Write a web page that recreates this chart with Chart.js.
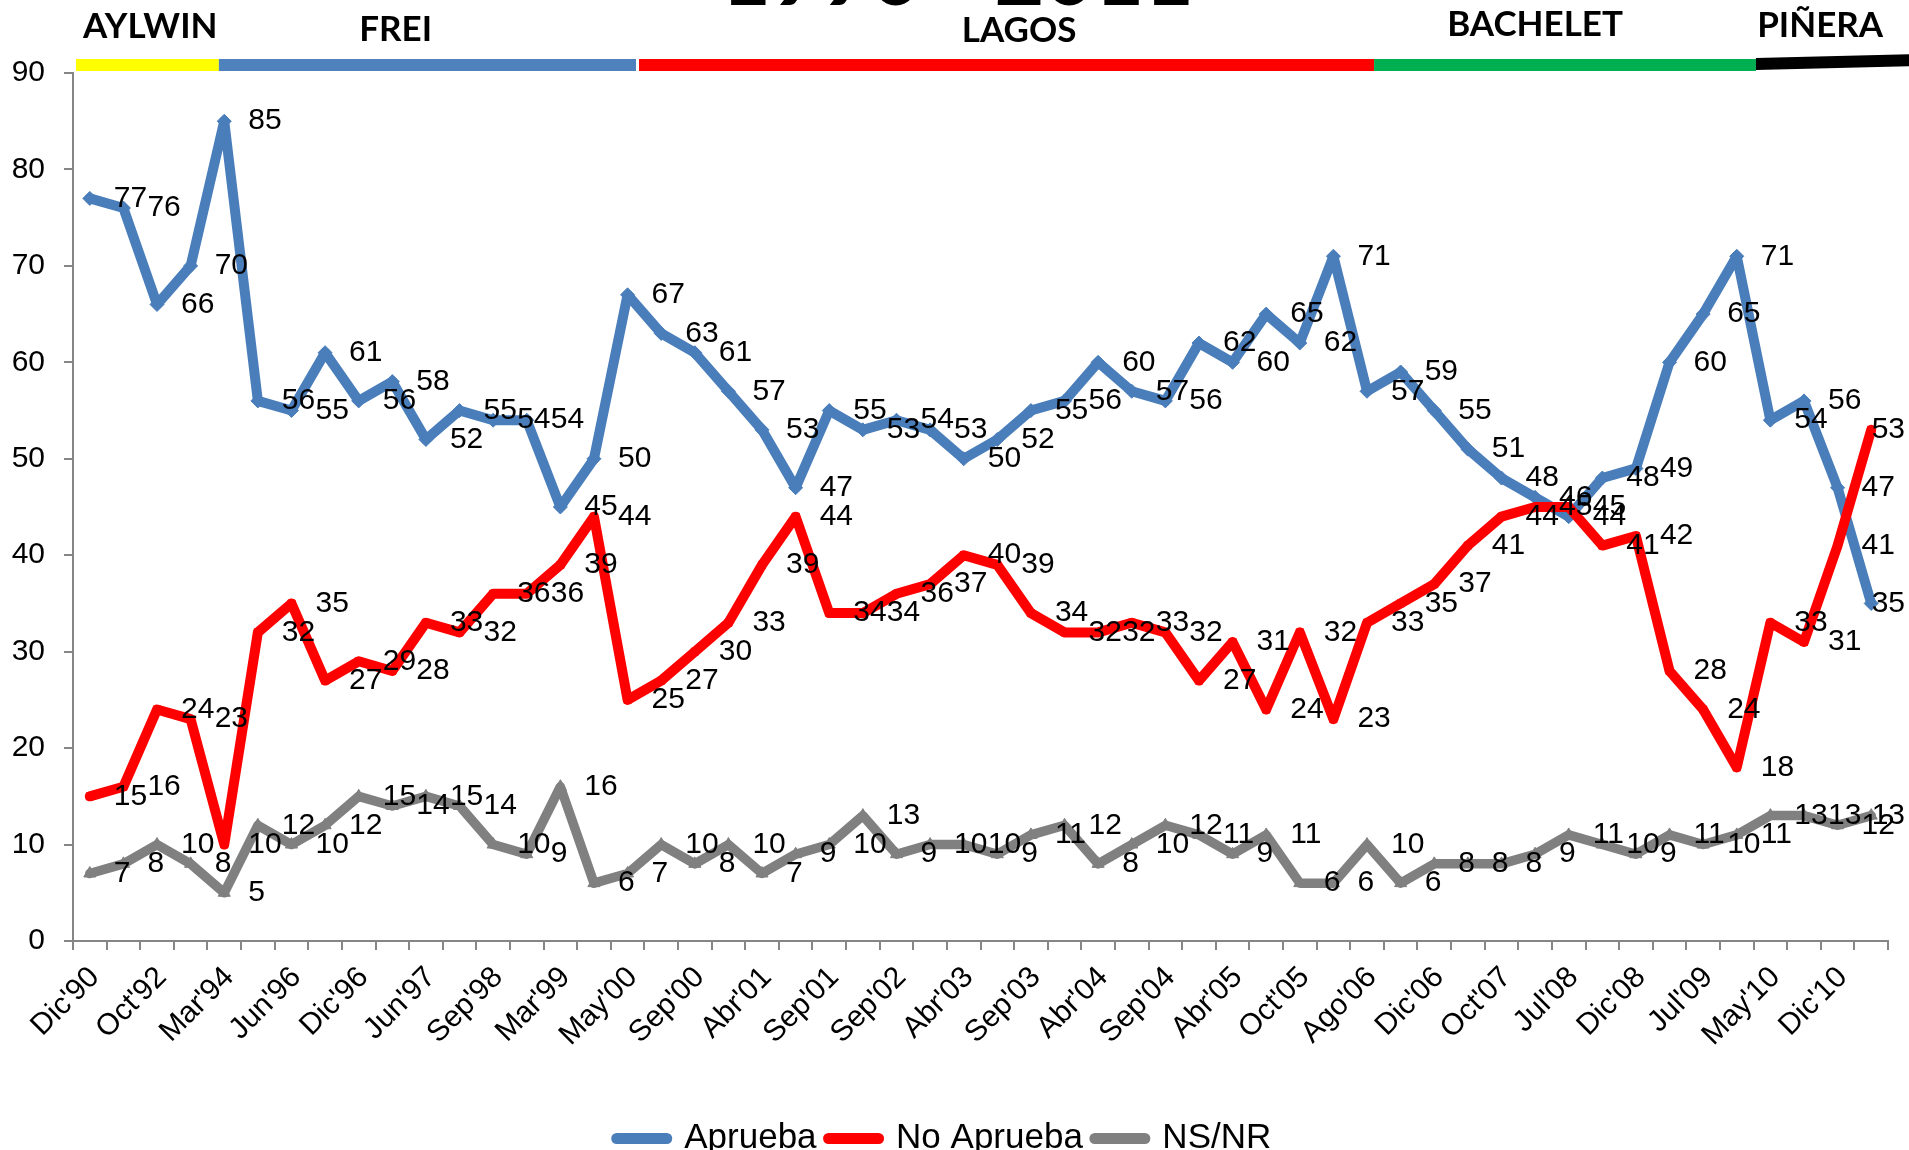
<!DOCTYPE html>
<html>
<head>
<meta charset="utf-8">
<script src="https://cdn.jsdelivr.net/npm/chart.js@4.4.1/dist/chart.umd.min.js"></script>
<style>
html,body{margin:0;padding:0;background:#fff;overflow:hidden}
#wrap{position:relative;width:1909px;height:1150px}
</style>
</head>
<body>
<div id="wrap"><canvas id="c" width="1909" height="1150" style="width:1909px;height:1150px"></canvas></div>
<script>
// ---------- DATA ----------
const chartTitle = '1990 - 2011';
const tickLabels = ["Dic'90","Oct'92","Mar'94","Jun'96","Dic'96","Jun'97","Sep'98","Mar'99","May'00","Sep'00","Abr'01","Sep'01","Sep'02","Abr'03","Sep'03","Abr'04","Sep'04","Abr'05","Oct'05","Ago'06","Dic'06","Oct'07","Jul'08","Dic'08","Jul'09","May'10","Dic'10"];
const seriesNames = ['Aprueba', 'No Aprueba', 'NS/NR'];
const aprueba   = [77,76,66,70,85,56,55,61,56,58,52,55,54,54,45,50,67,63,61,57,53,47,55,53,54,53,50,52,55,56,60,57,56,62,60,65,62,71,57,59,55,51,48,46,44,48,49,60,65,71,54,56,47,35];
const noAprueba = [15,16,24,23,10,32,35,27,29,28,33,32,36,36,39,44,25,27,30,33,39,44,34,34,36,37,40,39,34,32,32,33,32,27,31,24,32,23,33,35,37,41,44,45,45,41,42,28,24,18,33,31,41,53];
const nsnr      = [7,8,10,8,5,12,10,12,15,14,15,14,10,9,16,6,7,10,8,10,7,9,10,13,9,10,10,9,11,12,8,10,12,11,9,11,6,6,10,6,8,8,8,9,11,10,9,11,10,11,13,13,12,13];
const presidents = ['AYLWIN', 'FREI', 'LAGOS', 'BACHELET', 'PIÑERA'];

// ---------- DECORATION (term bars, in category units) ----------
const terms = [
  {color:'#FFFF00', from:-0.41, to:3.84,  labelAt:1.8,   base:38},
  {color:'#4F81BD', from:3.84,  to:16.25, labelAt:9.1,   base:41},
  {color:'#FF0000', from:16.34, to:38.21, labelAt:27.65, base:42},
  {color:'#00B050', from:38.21, to:49.57, labelAt:43.0,  base:36},
  {color:'#000000', from:49.57, to:54.3,  labelAt:51.48, base:37}
];

const categories = tickLabels.flatMap(l => [l, '']);
const FONT = '"Liberation Sans", Arial, sans-serif';

const decorPlugin = {
  id: 'decor',
  afterDraw(chart) {
    const ctx = chart.ctx, xs = chart.scales.x;
    ctx.save();
    ctx.font = '700 86px Lato, "Open Sans", sans-serif';
    ctx.fillStyle = '#000';
    ctx.textAlign = 'center';
    ctx.textBaseline = 'alphabetic';
    ctx.fillText(chartTitle, chart.width / 2 + 3, 5);
    terms.forEach((t, i) => {
      const x0 = xs.getPixelForValue(t.from);
      const x1 = Math.min(xs.getPixelForValue(t.to), chart.width + 5);
      ctx.fillStyle = t.color;
      if (i === terms.length - 1) {
        ctx.beginPath();
        ctx.moveTo(x0, 58); ctx.lineTo(x1, 54); ctx.lineTo(x1, 66); ctx.lineTo(x0, 70);
        ctx.closePath(); ctx.fill();
      } else {
        ctx.fillRect(x0, 59, x1 - x0, 12);
      }
      ctx.fillStyle = '#000';
      ctx.font = '700 35px Lato, "Open Sans", sans-serif';
      ctx.textAlign = 'center';
      ctx.fillText(presidents[i], xs.getPixelForValue(t.labelAt), t.base);
    });
    ctx.restore();
  }
};

const dataLabelPlugin = {
  id: 'pointLabels',
  afterDatasetsDraw(chart) {
    const ctx = chart.ctx;
    ctx.save();
    ctx.font = '30px ' + FONT;
    ctx.fillStyle = '#000';
    ctx.textAlign = 'left';
    ctx.textBaseline = 'middle';
    chart.data.datasets.forEach((ds, di) => {
      const meta = chart.getDatasetMeta(di);
      meta.data.forEach((pt, i) => {
        const txt = String(ds.data[i]);
        const w = ctx.measureText(txt).width;
        const x = Math.min(pt.x + 24, chart.width - 4 - w);
        ctx.fillText(txt, x, pt.y);
      });
    });
    ctx.restore();
  }
};

const lineDefaults = {borderJoinStyle: 'round', borderCapStyle: 'round', tension: 0, pointBorderWidth: 1, fill: false};

new Chart(document.getElementById('c'), {
  type: 'line',
  data: {
    labels: categories,
    datasets: [
      Object.assign({label: seriesNames[0], data: aprueba, borderColor: '#4A7EBB', backgroundColor: '#4A7EBB', borderWidth: 10, pointStyle: 'rectRot', pointRadius: 7, order: 3}, lineDefaults),
      Object.assign({label: seriesNames[1], data: noAprueba, borderColor: '#FF0000', backgroundColor: '#FF0000', borderWidth: 10, pointStyle: 'rect', pointRadius: 5, order: 2}, lineDefaults),
      Object.assign({label: seriesNames[2], data: nsnr, borderColor: '#808080', backgroundColor: '#808080', borderWidth: 9.5, pointStyle: 'triangle', pointRadius: 7, order: 1}, lineDefaults)
    ]
  },
  options: {
    responsive: false,
    maintainAspectRatio: false,
    animation: false,
    devicePixelRatio: 1,
    layout: {padding: {top: 73, left: 0, right: 21, bottom: -16}},
    plugins: {
      tooltip: {enabled: false},
      title: {display: false},
      legend: {
        position: 'bottom',
        labels: {
          usePointStyle: true, pointStyle: 'line', pointStyleWidth: 50,
          font: {family: FONT, size: 35}, color: '#000', padding: 12,
          generateLabels: chart => Chart.defaults.plugins.legend.labels.generateLabels(chart)
            .map(item => Object.assign(item, {lineWidth: 11, lineCap: 'round'})),
          sort: (a, b) => a.datasetIndex - b.datasetIndex
        }
      }
    },
    scales: {
      x: {
        offset: true,
        grid: {offset: true, drawOnChartArea: false, drawTicks: true, tickLength: 9, color: '#868686', lineWidth: 2},
        border: {display: true, color: '#868686', width: 2},
        ticks: {autoSkip: false, minRotation: 45, maxRotation: 45, font: {family: FONT, size: 30}, color: '#000', padding: 10, labelOffset: 5},
        afterFit: s => { s.height = 168; }
      },
      y: {
        min: 0, max: 90,
        grid: {drawOnChartArea: false, drawTicks: true, tickLength: 9, color: '#868686', lineWidth: 2},
        border: {display: true, color: '#868686', width: 2},
        ticks: {stepSize: 10, font: {family: FONT, size: 30}, color: '#000', padding: 19},
        afterFit: s => { s.width = 73; }
      }
    }
  },
  plugins: [decorPlugin, dataLabelPlugin]
});
</script>
</body>
</html>
